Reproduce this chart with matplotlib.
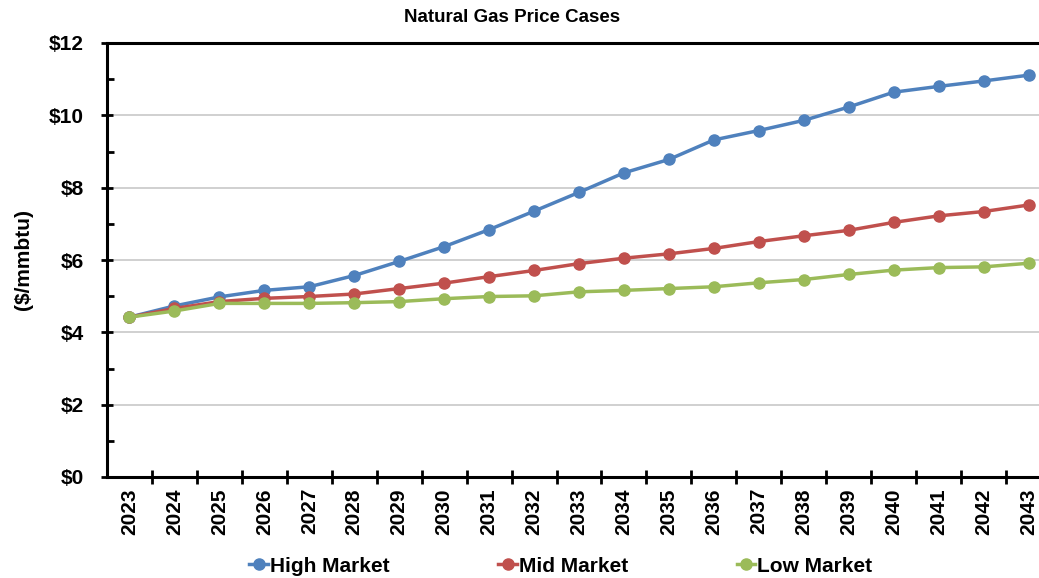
import numpy as np
import matplotlib.pyplot as plt
from matplotlib.ticker import MultipleLocator, FixedLocator, FuncFormatter

plt.rcParams['font.family'] = ['Liberation Sans', 'DejaVu Sans']
plt.rcParams['font.weight'] = 'bold'

# Годы и цены ($/mmbtu)
years = list(range(2023, 2044))
high_market = [4.42, 4.73, 4.98, 5.16, 5.26, 5.57, 5.96, 6.37, 6.84, 7.35, 7.87,
               8.41, 8.78, 9.32, 9.58, 9.86, 10.23, 10.64, 10.80, 10.95, 11.11]
mid_market = [4.42, 4.66, 4.85, 4.94, 4.99, 5.06, 5.21, 5.36, 5.54, 5.71, 5.90,
              6.05, 6.17, 6.32, 6.51, 6.67, 6.82, 7.04, 7.22, 7.34, 7.52]
low_market = [4.42, 4.59, 4.80, 4.80, 4.80, 4.82, 4.85, 4.93, 4.99, 5.01, 5.12,
              5.16, 5.21, 5.26, 5.37, 5.46, 5.60, 5.72, 5.79, 5.81, 5.91]

series = [("High Market", high_market, "#4F81BD"),
          ("Mid Market", mid_market, "#C0504D"),
          ("Low Market", low_market, "#9BBB59")]

fig = plt.figure(figsize=(10.39, 5.78), dpi=100)
W, H = 1039, 578
ax = fig.add_axes([107 / W, 101 / H, (1051 - 107) / W, (477 - 43) / H])

x = np.arange(len(years))
for name, vals, col in series:
    ax.plot(x, vals, color=col, lw=2.5, marker='o', ms=8, label=name, zorder=3)

ax.set_xlim(-0.5, len(years) - 0.5)
ax.set_ylim(0, 12)

# ось Y
ax.yaxis.set_major_locator(MultipleLocator(2))
ax.yaxis.set_minor_locator(MultipleLocator(1))
ax.yaxis.set_major_formatter(FuncFormatter(lambda v, p: f"${v:.0f}"))
ax.tick_params(axis='y', which='major', direction='inout', length=9, width=2, labelsize=15, pad=12)
ax.tick_params(axis='y', which='minor', direction='in', length=5, width=2)
ax.grid(axis='y', which='major', color='#C8C8C8', lw=1.2, zorder=0)

# ось X
ax.set_xticks(x)
ax.set_xticklabels([str(y) for y in years], rotation=90, fontsize=15, fontweight='bold')
ax.xaxis.set_minor_locator(FixedLocator(np.arange(0.5, len(years) - 0.5, 1)))
ax.tick_params(axis='x', which='major', length=0, pad=8)
ax.tick_params(axis='x', which='minor', direction='inout', length=10, width=2)

for s in ['left', 'bottom', 'top']:
    ax.spines[s].set_linewidth(2.2)
    ax.spines[s].set_color('black')
ax.spines['right'].set_visible(False)

ax.set_ylabel("($/mmbtu)", fontsize=15, fontweight='bold')
ax.yaxis.set_label_coords((33 - 107) / 944, 0.5)
fig.text(512 / W, 1 - 17 / H, "Natural Gas Price Cases", ha='center', va='center',
         fontsize=13.5, fontweight='bold')

fig.legend(loc='center', bbox_to_anchor=(561 / W, 1 - 566 / H), ncol=3, frameon=False,
           fontsize=15, handlelength=0.9, handletextpad=0.1, columnspacing=5.2,
           borderaxespad=0)

fig.savefig("out.png", dpi=100)
